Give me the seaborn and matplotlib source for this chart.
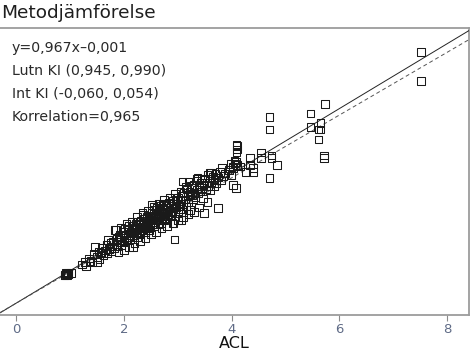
import numpy as np
import pandas as pd
import matplotlib
matplotlib.use("Agg")
import matplotlib.pyplot as plt
import seaborn as sns

# ---- data ----
acl = [
    0.90, 0.92, 0.94, 0.96, 0.93, 0.91, 0.97, 0.95, 1.02,
    1.22, 1.28, 1.30, 1.35, 1.38, 1.42, 1.45, 1.47, 1.50, 1.50, 1.53, 1.55,
    1.58, 1.60, 1.62, 1.65, 1.68, 1.70, 1.71, 1.73, 1.75, 1.76, 1.78, 1.80, 1.82, 1.84, 1.85, 1.87, 1.88, 1.90,
    1.92, 1.93, 1.95, 1.96, 1.98, 2.00, 2.01, 2.02, 2.04, 2.05, 2.07, 2.08, 2.10, 2.11, 2.12, 2.14, 2.15, 2.17, 2.17, 2.18, 2.19, 2.20,
    2.22, 2.23, 2.24, 2.25, 2.26, 2.27, 2.28, 2.30, 2.31, 2.32, 2.33, 2.34, 2.36, 2.36, 2.37, 2.38, 2.39, 2.40, 2.41, 2.42, 2.43, 2.44, 2.45, 2.46, 2.47, 2.48, 2.49, 2.50,
    2.52, 2.52, 2.53, 2.54, 2.55, 2.56, 2.57, 2.58, 2.59, 2.60, 2.61, 2.62, 2.63, 2.64, 2.65, 2.66, 2.67, 2.68, 2.69, 2.70, 2.71, 2.72, 2.73, 2.74, 2.75, 2.76, 2.77, 2.78, 2.79, 2.80,
    2.82, 2.83, 2.84, 2.86, 2.87, 2.88, 2.89, 2.90, 2.92, 2.92, 2.93, 2.94, 2.95, 2.96, 2.97, 2.98, 3.00, 3.01, 3.02, 3.04, 3.05, 3.07, 3.08, 3.09, 3.10, 3.10,
    3.12, 3.14, 3.15, 3.17, 3.18, 3.20, 3.20, 3.22, 3.23, 3.24, 3.26, 3.27, 3.28, 3.30, 3.31, 3.33, 3.35, 3.36, 3.37, 3.38, 3.40, 3.42, 3.43, 3.45, 3.47, 3.48,
    3.49, 3.50, 3.52, 3.54, 3.55, 3.57, 3.59, 3.60, 3.60, 3.62, 3.63, 3.65, 3.67, 3.68, 3.70, 3.72, 3.75, 3.75, 3.78, 3.80, 3.82, 3.85, 3.88,
    3.95, 3.98, 4.00, 4.02, 4.05, 4.03, 4.08, 4.16, 4.06, 4.10, 4.03, 4.08, 4.09, 4.09, 4.10, 4.10, 4.27,
    4.34, 4.34, 4.40, 4.40, 4.54, 4.54, 4.74, 4.74, 4.84, 4.70, 4.70, 4.70,
    5.46, 5.46, 5.65, 5.61, 5.65, 5.61, 5.73, 5.71, 5.71,
    7.51, 7.51,
    1.85, 1.95, 2.05, 2.15, 2.25, 2.35, 2.45, 2.55, 2.65, 2.75, 2.85, 2.95, 3.05, 3.15, 3.25, 3.35, 3.45,
    1.90, 2.00, 2.10, 2.20, 2.30, 2.40, 2.50, 2.60, 2.70, 2.80, 2.90, 3.00, 3.10, 3.20, 3.30, 3.40, 3.55,
]
method2 = [
    0.88, 0.90, 0.92, 0.90, 0.95, 0.86, 0.94, 0.87, 0.93,
    1.20, 1.28, 1.15, 1.38, 1.30, 1.25, 1.52, 1.74, 1.28, 1.42, 1.60, 1.35,
    1.55, 1.70, 1.48, 1.62, 1.80, 1.55, 1.95, 1.68, 1.85, 1.60, 1.75, 1.90, 1.70, 2.26, 1.82, 1.98, 1.75, 2.05,
    1.88, 2.12, 1.95, 1.80, 2.20, 2.02, 1.90, 2.30, 2.10, 1.96, 2.25, 2.05, 2.38, 1.98, 2.15, 2.28, 2.05, 1.74, 2.40, 2.20, 2.10, 2.32,
    2.45, 2.15, 2.28, 2.05, 2.50, 2.35, 2.20, 2.42, 2.12, 2.55, 2.30, 2.25, 2.72, 2.45, 2.35, 2.60, 2.20, 2.48, 2.38, 2.65, 2.30, 2.52, 2.42, 2.70, 2.25, 2.58, 2.36, 2.62,
    3.03, 2.80, 2.45, 2.70, 2.55, 2.88, 2.38, 2.65, 2.50, 2.78, 2.95, 2.60, 2.45, 2.72, 2.85, 2.55, 3.00, 2.68, 2.48, 2.80, 2.90, 2.62, 3.02, 2.75, 2.55, 2.88, 2.68, 3.05, 2.82, 2.60,
    2.95, 2.75, 3.10, 2.85, 2.68, 3.00, 2.80, 3.15, 2.46, 2.92, 3.05, 1.97, 2.78, 3.20, 2.95, 3.08, 2.85, 3.25, 3.00, 2.90, 3.15, 2.57, 3.30, 3.75, 2.82, 3.05,
    3.40, 3.20, 2.98, 3.50, 3.30, 3.75, 3.10, 3.45, 2.87, 3.35, 3.34, 3.55, 3.20, 3.65, 3.40, 3.28, 3.85, 3.50, 3.87, 3.38, 3.60, 3.45, 3.72, 3.55, 3.23, 3.65,
    2.78, 3.80, 3.50, 3.70, 3.95, 3.62, 4.01, 3.49, 3.85, 4.02, 3.72, 3.90, 3.60, 3.80, 3.98, 3.70, 2.94, 3.88, 4.05, 3.78, 4.16, 3.92, 4.00,
    4.10, 4.30, 3.95, 4.22, 4.40, 4.16, 4.36, 4.21, 4.31, 4.26, 3.64, 3.56, 4.88, 4.67, 4.85, 4.74, 4.05,
    4.47, 4.26, 4.16, 4.05, 4.65, 4.47, 4.55, 4.47, 4.26, 5.74, 5.35, 3.86,
    5.85, 5.44, 5.56, 5.35, 5.35, 5.05, 6.14, 4.55, 4.47,
    7.75, 6.85,
    2.25, 2.32, 2.45, 2.52, 2.65, 2.78, 2.85, 2.98, 3.05, 3.18, 3.25, 3.38, 3.42, 3.58, 3.62, 3.78, 3.85,
    1.58, 1.65, 1.72, 1.85, 1.92, 2.02, 2.12, 2.20, 2.32, 2.38, 2.48, 2.55, 2.65, 2.75, 2.82, 2.95, 3.12,
]
x_ticks = [0, 2, 4, 6, 8]
slope, intercept = 0.967, -0.001
title = "Metodjämförelse"
stats_lines = ["y=0,967x\u20130,001", "Lutn KI (0,945, 0,990)",
               "Int KI (-0,060, 0,054)", "Korrelation=0,965"]

df = pd.DataFrame({"ACL": acl, "M2": method2})

sns.set_theme(style="white")
plt.rcParams["font.family"] = ["DejaVu Sans"]

fig = plt.figure(figsize=(4.73, 3.56), dpi=100)
W, H = 473, 356
ax = fig.add_axes([0 / W, 1 - 315 / H, 469 / W, (315 - 28) / H])

ax.axline((0, 0), slope=1, color="#222222", lw=0.7, zorder=3)
ax.axline((0, intercept), slope=slope, color="#555555", lw=0.7,
          ls=(0, (4, 3)), zorder=3)

sns.scatterplot(data=df, x="ACL", y="M2", ax=ax, marker="s", s=30,
                facecolor="none", edgecolor="#1a1a1a", linewidth=0.75,
                zorder=4)

ax.set_xlim(-0.297, 8.404)
ax.set_ylim(-0.362, 8.483)
ax.set_xticks(x_ticks)
ax.set_xticklabels([str(t) for t in x_ticks])
ax.set_yticks([])
ax.set_ylabel("")
ax.set_xlabel("ACL", fontsize=11.5, color="#111111", labelpad=0)

for side in ["top", "right", "bottom"]:
    ax.spines[side].set_color("#9c9c9c")
    ax.spines[side].set_linewidth(1.3)
ax.spines["left"].set_visible(False)

ax.tick_params(axis="x", bottom=True, direction="out", length=4, width=0.8,
               color="#8a8a8a", labelsize=9.5, labelcolor="#5f6b86", pad=2)

fig.text(1 / W, 1 - 13 / H, title, fontsize=13.3, color="#1e1e1e",
         va="center", ha="left")

for i, line in enumerate(stats_lines):
    fig.text(12 / W, 1 - (48 + 23 * i) / H, line, fontsize=10.2,
             color="#2a2a2a", va="center", ha="left")

fig.savefig("out.png", dpi=100)
